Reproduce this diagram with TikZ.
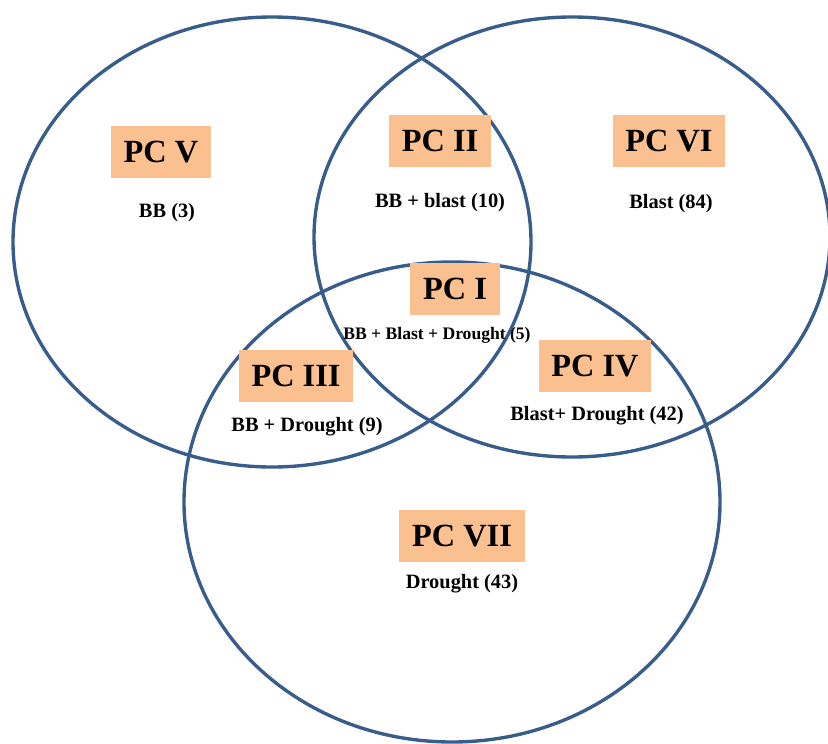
\documentclass[tikz,border=0pt]{standalone}
\usepackage{fontspec}
\setmainfont{Liberation Serif}
\usepackage{tikz}
\definecolor{kreis}{RGB}{56,93,138}
\definecolor{feld}{RGB}{250,192,144}

\begin{document}
\begin{tikzpicture}[x=0.025cm,y=-0.025cm,
		pc/.style={fill=feld,inner xsep=9pt,minimum height=37pt,font=\fontsize{23}{26}\selectfont\bfseries},
		anz/.style={font=\fontsize{14.5}{17}\selectfont\bfseries},
		ring/.style={draw=kreis,line width=2.4pt}]
		\useasboundingbox (0,0) rectangle (828,743);
		%Mittelpunkte der Ellipsen
		\coordinate (BB) at (272,242);
		\coordinate (Blast) at (572,237);
		\coordinate (Drought) at (452,502);
		
		\draw[ring] (BB) ellipse [x radius=259, y radius=225];
		\draw[ring] (Blast) ellipse [x radius=258, y radius=220];
		\draw[ring] (Drought) ellipse [x radius=268, y radius=240];
		
		%Felder und Anzahlen
		\node[pc] (pcV) at (161,152) {PC V};
		\node[anz] (nV) at (167,213) {BB (3)};
		\node[pc] (pcII) at (440,141) {PC II};
		\node[anz] (nII) at (440,203) {BB + blast (10)};
		\node[pc] (pcVI) at (669,141) {PC VI};
		\node[anz] (nVI) at (671,204) {Blast (84)};
		\node[pc] (pcI) at (455,289) {PC I};
		\node[anz,font=\fontsize{12.5}{15}\selectfont\bfseries] (nI) at (437,335) {BB + Blast + Drought (5)};
		\node[pc] (pcIII) at (296,376) {PC III};
		\node[anz] (nIII) at (307,427) {BB + Drought (9)};
		\node[pc] (pcIV) at (595,366) {PC IV};
		\node[anz] (nIV) at (597,416) {Blast+ Drought (42)};
		\node[pc] (pcVII) at (462,536) {PC VII};
		\node[anz] (nVII) at (462,584) {Drought (43)};
\end{tikzpicture}
\end{document}
